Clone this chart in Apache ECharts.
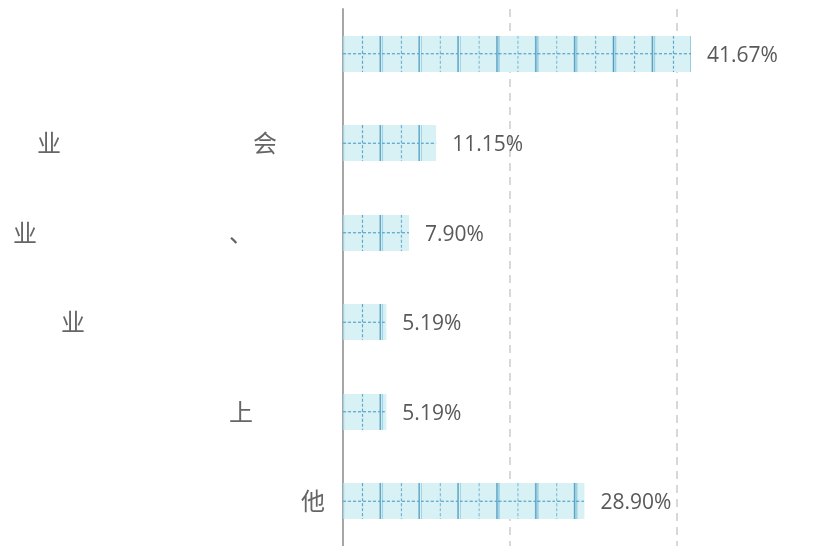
<!DOCTYPE html>
<html>
<head>
<meta charset="utf-8">
<script src="https://cdn.jsdelivr.net/npm/echarts@6/dist/echarts.min.js"></script>
<style>html,body{margin:0;padding:0;background:#fff}#c{width:840px;height:546px}</style>
</head>
<body>
<div id="c"></div>
<script>
const S = '\u3000';
const categories = [
  S,
  '业' + S.repeat(8) + '会' + S.repeat(2),
  '业' + S.repeat(8) + '、' + S.repeat(3) + '\u2002',
  '业' + S.repeat(10),
  '上' + S.repeat(3),
  '他'
];
const values = [41.67, 11.15, 7.90, 5.19, 5.19, 28.90];
const axisMax = 59.5;
const tickInterval = 20;

function makeCell() {
  const w = 39, h = 36, k = 3;
  const cv = document.createElement('canvas');
  cv.width = w * k; cv.height = h * k;
  const g = cv.getContext('2d');
  g.scale(k, k);
  g.fillStyle = '#d8f1f4';
  g.fillRect(0, 0, w, h);
  g.strokeStyle = '#94cbe0';
  g.lineWidth = 1;
  g.beginPath(); g.moveTo(0.6, 0); g.lineTo(0.6, h); g.stroke();
  g.strokeStyle = '#4f9dc2';
  g.lineWidth = 1.4;
  g.beginPath(); g.moveTo(37.4, 0); g.lineTo(37.4, h); g.stroke();
  g.strokeStyle = '#57a3ca';
  g.lineWidth = 1.1;
  g.setLineDash([3, 2]);
  g.beginPath(); g.moveTo(19.5, 0); g.lineTo(19.5, h); g.stroke();
  g.beginPath(); g.moveTo(0, 18); g.lineTo(w, 18); g.stroke();
  return cv.toDataURL();
}

const chart = echarts.init(document.getElementById('c'));
chart.setOption({
  animation: false,
  grid: { left: 343, top: 9, right: 0, height: 540, containLabel: false },
  xAxis: {
    type: 'value', min: 0, max: axisMax, interval: tickInterval,
    axisLine: { show: false }, axisTick: { show: false }, axisLabel: { show: false },
    splitLine: { show: true, showMaxLine: false, lineStyle: { color: '#cccccc', width: 1.5, type: [8, 6] } }
  },
  yAxis: {
    type: 'category', inverse: true, data: categories,
    axisLine: { show: true, lineStyle: { color: '#a6a6a6', width: 2 } },
    axisTick: { show: false },
    axisLabel: { margin: 18, fontSize: 24, color: '#666', fontFamily: 'Noto Sans CJK SC' }
  },
  series: [{
    type: 'bar',
    data: values,
    barWidth: 36,
    itemStyle: { color: 'rgba(0,0,0,0)' },
    z: 1,
    label: {
      show: true, position: 'right', distance: 16, offset: [0, 2],
      fontSize: 21, color: '#595959', fontFamily: 'Open Sans',
      formatter: p => p.value.toFixed(2) + '%'
    }
  }, {
    type: 'pictorialBar',
    data: values,
    barGap: '-100%',
    z: 2,
    symbol: 'image://' + makeCell(),
    symbolSize: [38.9, 36],
    symbolRepeat: 'fixed',
    symbolMargin: 0,
    symbolClip: true,
    symbolBoundingData: 60.5,
    symbolPosition: 'start'
  }]
});
</script>
</body>
</html>
